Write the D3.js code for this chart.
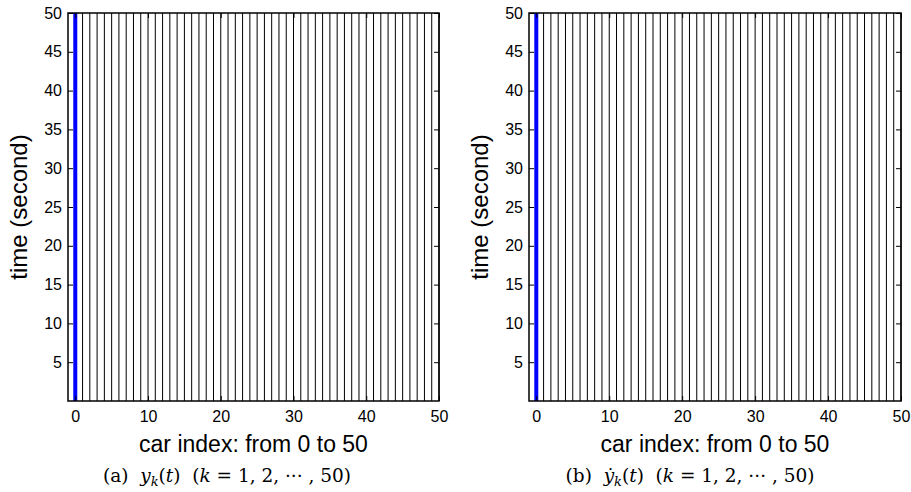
<!DOCTYPE html>
<html>
<head>
<meta charset="utf-8">
<script src="https://cdn.jsdelivr.net/npm/d3@7"></script>
<style>
  html, body { margin: 0; padding: 0; background: #fff; }
  svg { display: block; }
</style>
</head>
<body>
<svg id="chart" width="911" height="492"></svg>
<script>
// Car indices (trajectory columns); index 0 is the leading car
const carIndex = [0, 1, 2, 3, 4, 5, 6, 7, 8, 9, 10, 11, 12, 13, 14, 15, 16, 17, 18, 19, 20,
  21, 22, 23, 24, 25, 26, 27, 28, 29, 30, 31, 32, 33, 34, 35, 36, 37, 38, 39, 40,
  41, 42, 43, 44, 45, 46, 47, 48, 49, 50];
// Time span covered by every trajectory (seconds)
const timeSpan = [0, 50];
// Axis ticks
const xTicks = [0, 10, 20, 30, 40, 50];
const yTicks = [5, 10, 15, 20, 25, 30, 35, 40, 45, 50];
// Panels
const panels = [
  { letter: "(a)", dot: false, left: 68, right: 439, captionX: 227 },
  { letter: "(b)", dot: true, left: 529, right: 901, captionX: 690 }
];

const svg = d3.select("#chart");
const plotTop = 13, plotBottom = 401, tickLen = 5;
const tickFont = "Liberation Sans, Arial, Helvetica, sans-serif";

panels.forEach(p => {
  const x = d3.scaleLinear().domain([-1, 50]).range([p.left, p.right]);
  const y = d3.scaleLinear().domain([0, 50]).range([plotBottom, plotTop]);
  const g = svg.append("g");

  // one vertical trajectory per car
  g.selectAll("line.traj")
    .data(carIndex)
    .join("line")
    .attr("class", "traj")
    .attr("x1", d => x(d)).attr("x2", d => x(d))
    .attr("y1", y(timeSpan[0])).attr("y2", y(timeSpan[1]))
    .attr("stroke", d => d === 0 ? "#0000ff" : "#000")
    .attr("stroke-width", d => d === 0 ? 4 : 1);

  // axes with inward ticks, MATLAB style box
  const axB = d3.axisBottom(x).tickValues(xTicks).tickSize(-tickLen).tickPadding(10).tickFormat(d3.format("d"));
  const axT = d3.axisTop(x).tickValues(xTicks).tickSize(-tickLen).tickFormat("");
  const axL = d3.axisLeft(y).tickValues(yTicks).tickSize(-tickLen).tickPadding(6).tickFormat(d3.format("d"));
  const axR = d3.axisRight(y).tickValues(yTicks).tickSize(-tickLen).tickFormat("");

  [[axB, `translate(0,${plotBottom})`], [axT, `translate(0,${plotTop})`],
   [axL, `translate(${p.left},0)`], [axR, `translate(${p.right},0)`]].forEach(([ax, tr]) => {
    const a = g.append("g").attr("transform", tr).call(ax);
    a.select(".domain").remove();
    a.selectAll(".tick line").attr("stroke", "#000").attr("stroke-width", 1);
    a.selectAll(".tick text").attr("fill", "#000")
      .attr("font-family", tickFont).attr("font-size", 16);
  });

  // frame
  g.append("rect")
    .attr("x", p.left).attr("y", plotTop)
    .attr("width", p.right - p.left).attr("height", plotBottom - plotTop)
    .attr("fill", "none").attr("stroke", "#000").attr("stroke-width", 1.5);

  // axis titles
  g.append("text")
    .attr("x", (p.left + p.right) / 2).attr("y", 452)
    .attr("text-anchor", "middle")
    .attr("font-family", tickFont).attr("font-size", 23)
    .text("car index: from 0 to 50");

  g.append("text")
    .attr("transform", `translate(${p.left - 41},${(plotTop + plotBottom) / 2}) rotate(-90)`)
    .attr("text-anchor", "middle")
    .attr("font-family", tickFont).attr("font-size", 24)
    .text("time (second)");

  // caption
  const cap = g.append("text")
    .attr("x", p.captionX).attr("y", 482)
    .attr("text-anchor", "middle")
    .attr("font-family", "DejaVu Serif, Liberation Serif, serif")
    .attr("font-size", 18.5)
    .attr("xml:space", "preserve")
    .style("white-space", "pre");
  cap.append("tspan").text(p.letter + "  ");
  cap.append("tspan").attr("font-style", "italic").text(p.dot ? "\u1E8F" : "y");
  cap.append("tspan").attr("font-style", "italic").attr("font-size", 13).attr("dy", 4).text("k");
  cap.append("tspan").attr("dy", -4).text("(");
  cap.append("tspan").attr("font-style", "italic").text("t");
  cap.append("tspan").text(")  (");
  cap.append("tspan").attr("font-style", "italic").text("k");
  cap.append("tspan").text(" = 1, 2, \u00B7\u00B7\u00B7 , 50)");
});
</script>
</body>
</html>
